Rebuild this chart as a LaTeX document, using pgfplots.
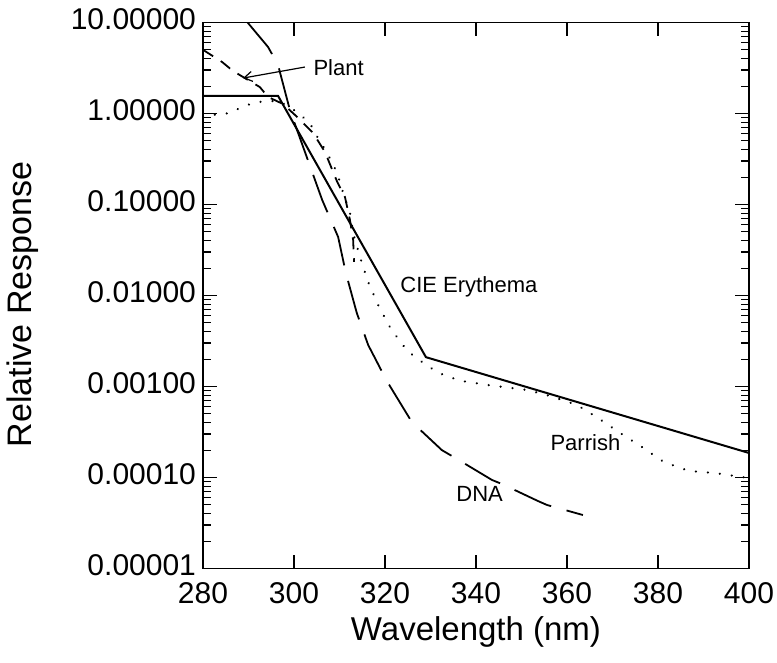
\documentclass[border=0pt]{standalone}
\usepackage{pgfplots}
\pgfplotsset{compat=1.18}
\usepackage{fontspec}
\setmainfont{Liberation Sans}
\usetikzlibrary{arrows.meta}

\begin{document}
\begin{tikzpicture}
\begin{axis}[
  name=ax,
  scale only axis,
  width=273pt, height=273pt,
  xmin=280, xmax=400,
  ymode=log, ymin=1e-5, ymax=10,
  xtick={280,300,320,340,360,380,400},
  xticklabels={280,300,320,340,360,380,400},
  ytick={1e-5,1e-4,1e-3,1e-2,1e-1,1,10},
  yticklabels={0.00001,0.00010,0.00100,0.01000,0.10000,1.00000,10.00000},
  minor xtick={},
  tick align=inside,
  major tick length=7pt,
  minor tick length=4pt,
  tick style={black, line width=0.6pt},
  axis line style={line width=0.8pt},
  ticklabel style={font=\fontsize{15}{17}\selectfont},
  xticklabel style={yshift=-3.5pt},
  yticklabel style={yshift=1.5pt},
  xlabel={Wavelength (nm)},
  ylabel={Relative Response},
  label style={font=\fontsize{16.5}{19}\selectfont},
  xlabel style={at={(axis description cs:0.5,-0.117)}, anchor=center},
  ylabel style={at={(axis description cs:-0.331,0.4835)}, anchor=center, font=\fontsize{17}{19}\selectfont},
  clip=true,
]
% CIE Erythema (solid)
\addplot[black, line width=1pt] coordinates {
  (280,1.56) (296.5,1.56) (329,0.0021) (400,0.000186)
};
% Parrish (dotted)
\addplot[black, line width=1.2pt, dash pattern=on 0.01pt off 6pt, line cap=round] coordinates {
  (280,0.912) (282.2,0.964) (285.9,1.01) (288.6,1.18) (291,1.30) (294,1.38)
  (297,1.35) (300.5,1.05) (303.5,0.787) (304.6,0.611) (307.3,0.368)
  (309.5,0.222) (310.8,0.134) (312.3,0.0807) (313.0,0.0486) (314.5,0.0265)
  (316.3,0.01406) (318.7,0.00748) (321.3,0.00429) (324.6,0.00258)
  (326.8,0.00206) (329.2,0.00172) (331.4,0.00144) (334.1,0.00127)
  (336.9,0.00115) (342.5,0.00104) (351.2,0.000916) (356,0.000794)
  (362.2,0.000627) (366.8,0.000451) (371.7,0.000308) (376.5,0.000216)
  (381.3,0.000148) (386.8,0.000118) (392.5,0.000112) (399.8,0.0000989)
};
% Plant (dashed)
\addplot[black, line width=0.9pt, dash pattern=on 6pt off 4.5pt] coordinates {
  (280,5.01) (284.2,3.68) (286.6,2.93) (292.5,1.95) (294.3,1.52) (297.6,1.27)
  (300.7,0.916) (304.2,0.611) (306.8,0.378) (309.5,0.177) (311.2,0.121)
  (312.3,0.0676) (313.0,0.0407) (313.2,0.0234)
};
% DNA (long dashed)
\addplot[black, line width=0.9pt, dash pattern=on 20pt off 8pt] coordinates {
  (289.8,10) (294.3,5.38) (296.5,3.41) (299.1,1.09) (306.2,0.112)
  (309.7,0.0440) (311.4,0.01766) (313.8,0.00643) (316.3,0.00286)
  (320.4,0.00115) (325.9,0.000407) (332.5,0.0002) (335.8,0.00016)
  (343.5,0.0000940) (345.7,0.0000849) (353.6,0.0000552) (355.6,0.0000499)
  (363.5,0.0000387)
};
\draw[black, line width=0.6pt, -{Straight Barb[length=4pt,width=5pt]}] (axis cs:302.4,3.24) -- (axis cs:288.8,2.45);
\node[anchor=west, inner sep=0pt, font=\fontsize{11}{13}\selectfont] at (axis cs:304.2,3.16) {Plant};
\node[anchor=west, inner sep=0pt, font=\fontsize{11}{13}\selectfont] at (axis cs:323.3,0.0124) {CIE Erythema};
\node[anchor=west, inner sep=0pt, font=\fontsize{11}{13}\selectfont] at (axis cs:356.3,0.00024) {Parrish};
\node[anchor=west, inner sep=0pt, font=\fontsize{11}{13}\selectfont] at (axis cs:335.6,0.000066) {DNA};
\end{axis}
\pgfresetboundingbox
\path ([shift={(-101.5pt,-47pt)}]ax.south west) rectangle ([shift={(14pt,11.25pt)}]ax.north east);
\end{tikzpicture}
\end{document}
